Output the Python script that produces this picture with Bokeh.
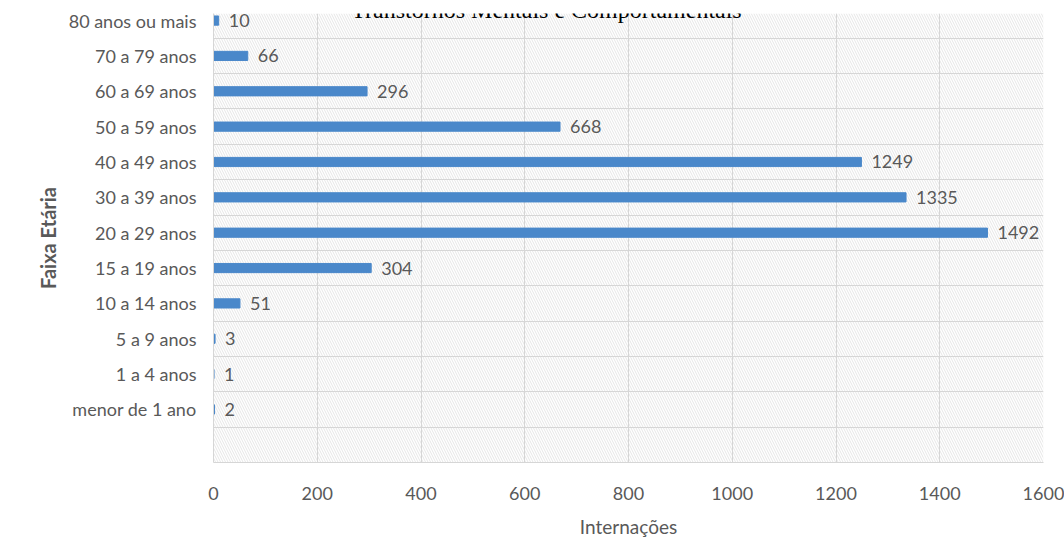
from bokeh.plotting import figure
from bokeh.models import Range1d, FixedTicker, BoxAnnotation, Label, ColumnDataSource
from bokeh.core.properties import value
from bokeh.embed import file_html
from bokeh.resources import INLINE

categories = ["menor de 1 ano", "1 a 4 anos", "5 a 9 anos", "10 a 14 anos",
              "15 a 19 anos", "20 a 29 anos", "30 a 39 anos", "40 a 49 anos",
              "50 a 59 anos", "60 a 69 anos", "70 a 79 anos", "80 anos ou mais"]
internacoes = [2, 1, 3, 51, 304, 1492, 1335, 1249, 668, 296, 66, 10]
x_ticks = [0, 200, 400, 600, 800, 1000, 1200, 1400, 1600]
title_text = "Transtornos Mentais e Comportamentais"
x_label = "Internações"
y_label = "Faixa Etária"

n = len(categories)
pos = list(range(n))
src = ColumnDataSource(dict(y=pos, v=internacoes, lab=[str(v) for v in internacoes]))

FONT = "Lato"
GRAY = "#595959"
GRID = "#d6d6d6"

p = figure(width=1064, height=551, output_backend="svg", toolbar_location=None,
           x_range=Range1d(x_ticks[0], x_ticks[-1]), y_range=Range1d(-1.5, n - 1 + 0.2),
           min_border_left=213, min_border_right=21, min_border_top=13, min_border_bottom=89,
           background_fill_color="white", border_fill_color="white")
p.outline_line_color = None

# hatched plot background
p.add_layout(BoxAnnotation(fill_color="white", fill_alpha=1, line_color=None,
                           hatch_pattern="\\", hatch_color="#e6e6e6", hatch_scale=5,
                           hatch_weight=1, hatch_alpha=1, level="image"))

p.hbar(y="y", right="v", left=0, height=0.26, source=src, color="#4a88ca")
p.text(x="v", y="y", text="lab", source=src, x_offset=10, text_align="left",
       text_baseline="middle", text_font=value(FONT), text_font_size="18px", text_color=GRAY)

p.xaxis.ticker = FixedTicker(ticks=x_ticks)
p.yaxis.ticker = FixedTicker(ticks=pos)
p.yaxis.major_label_overrides = {i: c for i, c in enumerate(categories)}

for ax in (p.xaxis[0], p.yaxis[0]):
    ax.major_tick_line_color = None
    ax.minor_tick_line_color = None
    ax.axis_line_color = GRID
    ax.major_label_text_font = FONT
    ax.major_label_text_font_size = "18px"
    ax.major_label_text_color = GRAY
    ax.axis_label_text_font = FONT
    ax.axis_label_text_color = GRAY
    ax.axis_label_text_font_style = "normal"

p.xaxis.major_label_standoff = 18
p.xaxis.axis_label = x_label
p.xaxis.axis_label_text_font_size = "19px"
p.xaxis.axis_label_standoff = 12

p.yaxis.major_label_standoff = 11
p.yaxis.axis_label = y_label
p.yaxis.axis_label_text_font_size = "20px"
p.yaxis.axis_label_text_font_style = "bold"
p.yaxis.axis_label_standoff = 6

p.xgrid.grid_line_color = GRID
p.xgrid.ticker = FixedTicker(ticks=x_ticks)
p.ygrid.grid_line_color = GRID
p.ygrid.ticker = FixedTicker(ticks=[i - 0.5 for i in range(n)])

p.add_layout(Label(x=333, y=452.5, x_units="screen", y_units="screen", text=title_text,
                   text_align="center", text_baseline="alphabetic",
                   text_font="Liberation Serif", text_font_size="24px", text_color="black"))

open("out.html", "w").write(file_html(p, INLINE))
